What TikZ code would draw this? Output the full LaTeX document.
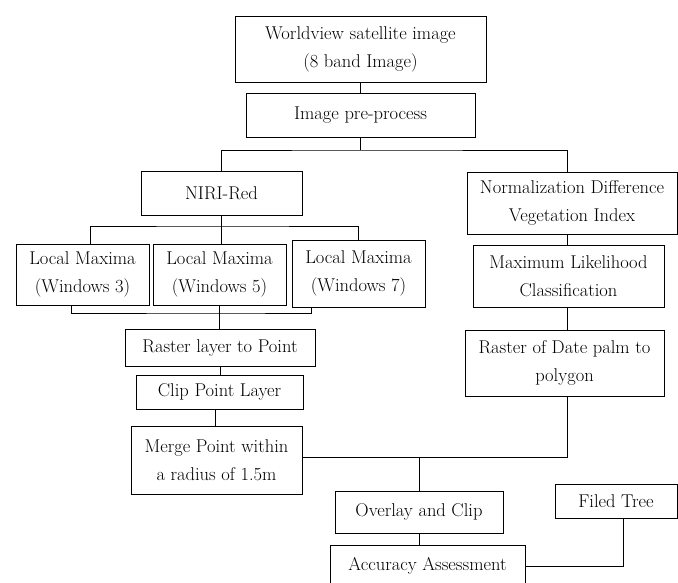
\documentclass[tikz,border=0pt]{standalone}
\usepackage{tikz}
\usetikzlibrary{positioning}

\begin{document}
\begin{tikzpicture}[
  x=1pt, y=-1pt,
  box/.style={draw, line width=0.8pt, inner sep=0pt, align=center,
    font=\fontsize{18.5}{28}\selectfont},
  link/.style={line width=0.8pt},
]
\useasboundingbox (0,0) rectangle (678,583);

% Nodes
\node[box, minimum width=251, minimum height=66] (wv) at (360.5,49) {Worldview satellite image\\(8 band Image)};
\node[box, minimum width=229, minimum height=44] (pre) at (360.5,115) {Image pre-process};

\node[box, minimum width=161, minimum height=44] (niri) at (221.5,193) {NIRI-Red};
\node[box, minimum width=210, minimum height=62] (ndvi) at (572,203) {Normalization Difference\\Vegetation Index};

\node[box, minimum width=133, minimum height=61] (lm3) at (82.5,274.5) {Local Maxima\\(Windows 3)};
\node[box, minimum width=133, minimum height=61] (lm5) at (219.5,274.5) {Local Maxima\\(Windows 5)};
\node[box, minimum width=133, minimum height=67] (lm7) at (358.5,273.5) {Local Maxima\\(Windows 7)};
\node[box, minimum width=191, minimum height=62] (mlc) at (568.5,276) {Maximum Likelihood\\Classification};

\node[box, minimum width=190, minimum height=37] (rlp) at (220,347.5) {Raster layer to Point};
\node[box, minimum width=199, minimum height=66] (rdp) at (564.5,363) {Raster of Date palm to\\polygon};
\node[box, minimum width=167, minimum height=34] (clip) at (219.5,392) {Clip Point Layer};
\node[box, minimum width=171, minimum height=68] (merge) at (216.5,460) {Merge Point within\\a radius of 1.5m};

\node[box, minimum width=168, minimum height=42] (overlay) at (419,512) {Overlay and Clip};
\node[box, minimum width=122, minimum height=34] (tree) at (616,501) {Filed Tree};
\node[box, minimum width=195, minimum height=42] (acc) at (427.5,566) {Accuracy Assessment};

% Junctions
\coordinate (topbus) at (360.5,150);
\coordinate (niribus) at (221,226);
\coordinate (lmbus) at (220,313);
\coordinate (mergebus) at (419,457);

% Lines
\draw[link] (wv) -- (wv |- pre.north);
\draw[link] (pre.south) -- (topbus);
\draw[link] (niri.north) |- (topbus) -| ([xshift=-5pt]ndvi.north);

\draw[link] (niri.south) -- (niri.south |- lm5.north);
\draw[link] ([xshift=7.5pt]lm3.north) |- (niribus) -| (lm7.north);

\draw[link] (lm5.south) -- (lm5.south |- rlp.north);
\draw[link] ([xshift=-11.5pt]lm3.south) |- (lmbus) -| ([xshift=-47.5pt]lm7.south);

\draw[link] (rlp) -- (rlp |- clip.north);
\draw[link] ([xshift=-4.5pt]clip.south) -- ([xshift=-4.5pt]clip.south |- merge.north);

\draw[link] ([xshift=-5pt]ndvi.south) -- ([xshift=-5pt]ndvi.south |- mlc.north);
\draw[link] ([xshift=-1.5pt]mlc.south) -- ([xshift=-1.5pt]mlc.south |- rdp.north);
\draw[link] ([yshift=3pt]merge.east) -| ([xshift=2.5pt]rdp.south);
\draw[link] (overlay.north) -- (mergebus);

\draw[link] (overlay) -- (overlay |- acc.north);
\draw[link] ([xshift=7pt]tree.south) |- (acc.east);

\end{tikzpicture}
\end{document}
